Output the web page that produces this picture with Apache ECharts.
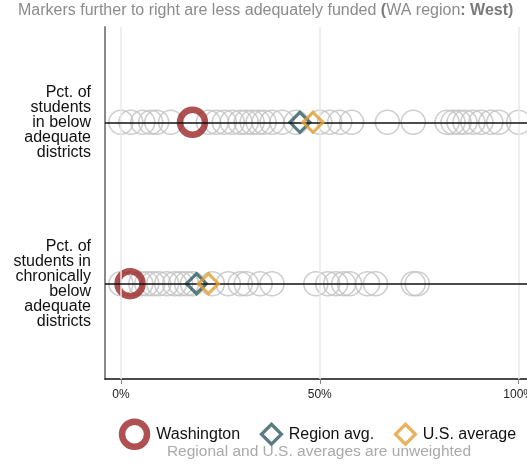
<!DOCTYPE html>
<html>
<head>
<meta charset="utf-8">
<script src="https://cdn.jsdelivr.net/npm/echarts@6/dist/echarts.min.js"></script>
<style>html,body{margin:0;padding:0;background:#fff;overflow:hidden}#c{width:527px;height:466px}</style>
</head>
<body>
<div id="c"></div>
<script>
// ---- data ----
const xTicks = [0, 50, 100];
const rowValues = [1, 0];
const rowLabels = [
  'Pct. of\nstudents\nin below\nadequate\ndistricts',
  'Pct. of\nstudents in\nchronically\nbelow\nadequate\ndistricts'
];
// district markers (percent), row 1: below adequate, row 2: chronically below adequate
const belowAdequate = [0, 2.5, 5.5, 7.5, 9, 12.5, 22, 24, 26, 28, 30, 31.5, 33, 34.5, 36, 38, 40.5, 44, 50, 52.5, 55, 58, 67, 73.5, 82, 83.5, 85, 86.5, 88.5, 90.5, 93, 95, 100];
const chronicallyBelow = [0, 2.5, 5, 6.5, 8, 9.5, 11.5, 13.5, 15, 16.5, 18, 23, 27, 30, 31.5, 35, 38, 49, 52, 54, 56, 57.5, 62, 64, 73.5, 74.5];
const washington = [18, 2.3];
const regionAvg = [45, 19];
const usAvg = [48.3, 22];

const FONT = '"Liberation Sans", Helvetica, Arial, sans-serif';
const WA_COLOR = '#9b2527';
const REGION_COLOR = '#2e5a62';
const US_COLOR = '#e29f34';
const pairs = (vals) => vals.map((v, i) => [v, rowValues[i]]);
const districtData = belowAdequate.map(v => [v, rowValues[0]]).concat(chronicallyBelow.map(v => [v, rowValues[1]]));

const chart = echarts.init(document.getElementById('c'), null, {renderer: 'canvas', width: 527, height: 466});
chart.setOption({
  animation: false,
  textStyle: {fontFamily: FONT},
  title: {
    text: 'Markers further to right are less adequately funded {b|(}WA region{b|: West)}',
    left: 18, top: 3, padding: 0,
    textStyle: {fontFamily: FONT, fontSize: 16, fontWeight: 'normal', color: '#8c8c8c',
      rich: {b: {fontFamily: FONT, fontSize: 16, fontWeight: 'bold', color: '#7a7a7a'}}}
  },
  grid: {left: 105, right: 0, top: 27, bottom: 87, containLabel: false, outerBoundsMode: 'none'},
  xAxis: {
    type: 'value', min: -4, max: 102.1,
    axisLine: {show: true, onZero: false, lineStyle: {color: '#111', width: 1.5}},
    axisTick: {show: true, customValues: xTicks, length: 5, lineStyle: {color: '#888', width: 1}},
    axisLabel: {show: true, customValues: xTicks, formatter: v => v + '%', fontSize: 12, color: '#222', margin: 10, fontFamily: FONT, hideOverlap: false},
    splitLine: {show: false}
  },
  yAxis: {
    type: 'value', min: -0.59, max: 1.59,
    axisLine: {show: true, onZero: false, lineStyle: {color: '#8a8a8a', width: 2}},
    axisTick: {show: false},
    axisLabel: {show: true, customValues: rowValues, formatter: v => rowLabels[rowValues.indexOf(v)],
      fontSize: 16, lineHeight: 15, color: '#111', align: 'right', margin: 14, fontFamily: FONT},
    splitLine: {show: false}
  },
  legend: {
    left: 116, top: 415, padding: 0, itemWidth: 32, itemHeight: 32, itemGap: 10,
    textStyle: {fontFamily: FONT, fontSize: 16, color: '#111'},
    data: [
      {name: 'Washington', icon: 'path://M0,0M2.8,16a12.5,12.5 0 1,0 25,0a12.5,12.5 0 1,0 -25,0M32,32',
        itemStyle: {color: 'rgba(0,0,0,0)', borderColor: WA_COLOR, borderWidth: 6.5}},
      {name: 'Region avg.', icon: 'path://M0,0M19.7,6L29.7,16L19.7,26L9.7,16ZM32,32',
        itemStyle: {color: 'rgba(0,0,0,0)', borderColor: REGION_COLOR, borderWidth: 3.2}},
      {name: 'U.S. average', icon: 'path://M0,0M19.7,6L29.7,16L19.7,26L9.7,16ZM32,32',
        itemStyle: {color: 'rgba(0,0,0,0)', borderColor: US_COLOR, borderWidth: 3.2}}
    ]
  },
  graphic: [{
    type: 'text', x: 319, y: 444,
    style: {text: 'Regional and U.S. averages are unweighted', fontFamily: FONT, fontSize: 15.5, fill: '#aaaaaa', textAlign: 'center'}
  }],
  series: [
    {
      name: 'grid', type: 'scatter', data: [], z: 0, silent: true,
      markLine: {silent: true, symbol: 'none', label: {show: false},
        lineStyle: {color: '#e8e8e8', width: 1.5, type: 'solid'},
        data: xTicks.map(v => ({xAxis: v}))}
    },
    {
      name: 'Districts', type: 'scatter', data: districtData, z: 1, silent: true,
      symbol: 'circle', symbolSize: 24,
      itemStyle: {color: 'rgba(0,0,0,0)', borderColor: '#c2c2c2', borderWidth: 1.6},
      markLine: {silent: true, symbol: 'none', label: {show: false},
        lineStyle: {color: '#111', width: 1.5, type: 'solid'},
        data: rowValues.map(v => ({yAxis: v}))}
    },
    {
      name: 'Washington', type: 'scatter', data: pairs(washington), z: 3,
      symbol: 'circle', symbolSize: 25,
      itemStyle: {color: 'rgba(0,0,0,0)', borderColor: WA_COLOR, borderWidth: 6.5}
    },
    {
      name: 'Region avg.', type: 'scatter', data: pairs(regionAvg), z: 4,
      symbol: 'diamond', symbolSize: 20,
      itemStyle: {color: 'rgba(0,0,0,0)', borderColor: REGION_COLOR, borderWidth: 3.2}
    },
    {
      name: 'U.S. average', type: 'scatter', data: pairs(usAvg), z: 5,
      symbol: 'diamond', symbolSize: 20,
      itemStyle: {color: 'rgba(0,0,0,0)', borderColor: US_COLOR, borderWidth: 3.2}
    }
  ]
});
</script>
</body>
</html>
